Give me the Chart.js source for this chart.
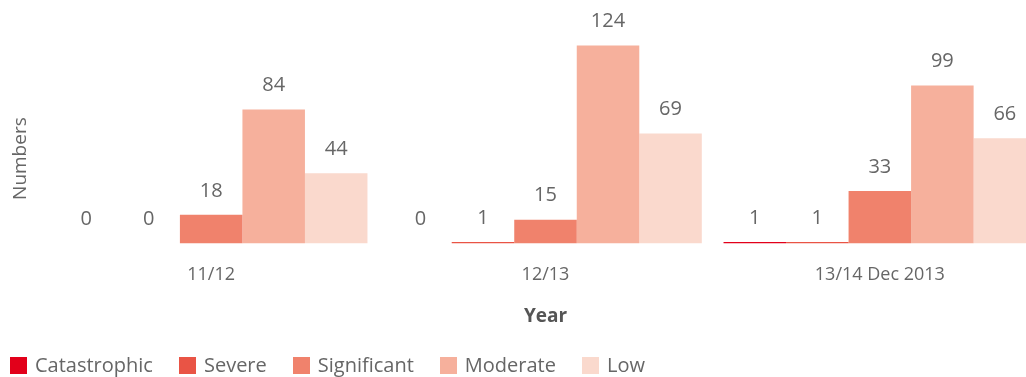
<!DOCTYPE html>
<html>
<head>
<meta charset="utf-8">
<script src="https://cdn.jsdelivr.net/npm/chart.js@4.4.1/dist/chart.umd.min.js"></script>
<style>
    html, body { margin: 0; padding: 0; background: #fff; overflow: hidden; }
    #wrap { position: relative; width: 1050px; height: 377px; }
    #legend { position: absolute; left: 10px; top: 354px; display: flex; font: 20px "Open Sans", sans-serif; color: #666; }
    #legend .item { display: flex; align-items: center; margin-right: 26px; line-height: 22px; }
    #legend .box { width: 17px; height: 17px; margin-right: 8px; }
</style>
</head>
<body>
<div id="wrap">
    <canvas id="chart" width="1050" height="377"></canvas>
    <div id="legend"></div>
</div>
<script>
const categories = ['11/12', '12/13', '13/14 Dec 2013']
const seriesNames = ['Catastrophic', 'Severe', 'Significant', 'Moderate', 'Low']
const catastrophic = [0, 0, 1]
const severe = [0, 1, 1]
const significant = [18, 15, 33]
const moderate = [84, 124, 99]
const low = [44, 69, 66]
const colors = ['#e2001a', '#e95445', '#f0826c', '#f6b09c', '#fad9cd']

const seriesValues = [catastrophic, severe, significant, moderate, low]

// value labels above each bar
const valueLabels = {
    id: 'valueLabels',
    afterDatasetsDraw(chart) {
        const { ctx } = chart
        ctx.save()
        ctx.font = '20px "Open Sans", sans-serif'
        ctx.fillStyle = '#666'
        ctx.textAlign = 'center'
        ctx.textBaseline = 'middle'
        chart.data.datasets.forEach(function (ds, i) {
            chart.getDatasetMeta(i).data.forEach(function (bar, j) {
                ctx.fillText(String(ds.data[j]), bar.x, bar.y - 24)
            })
        })
        ctx.restore()
    }
}

// y axis title sits lower than the middle of the plot
const yTitle = {
    id: 'yTitle',
    afterDraw(chart) {
        const { ctx, chartArea } = chart
        ctx.save()
        ctx.translate(chartArea.left - 23, chartArea.bottom - 85)
        ctx.rotate(-Math.PI / 2)
        ctx.font = '19px "Open Sans", sans-serif'
        ctx.fillStyle = '#666'
        ctx.textAlign = 'center'
        ctx.textBaseline = 'middle'
        ctx.fillText('Numbers', 0, 0)
        ctx.restore()
    }
}

const chart = new Chart(document.getElementById('chart'), {
    type: 'bar',
    data: {
        labels: categories,
        datasets: seriesNames.map(function (name, i) {
            return {
                label: name,
                data: seriesValues[i],
                backgroundColor: colors[i],
                borderWidth: 0,
                barPercentage: 1,
                categoryPercentage: 0.935
            }
        })
    },
    options: {
        responsive: false,
        animation: false,
        layout: {
            padding: { left: 44, right: 3, top: 4, bottom: 45 }
        },
        scales: {
            x: {
                grid: { display: false, drawTicks: false },
                border: { display: false },
                ticks: {
                    padding: 20,
                    color: '#666',
                    font: { family: 'Open Sans', size: 18 }
                },
                title: {
                    display: true,
                    text: 'Year',
                    color: '#555',
                    padding: { top: 0, bottom: 4 },
                    font: { family: 'Open Sans', size: 19, weight: 'bold' }
                }
            },
            y: {
                display: false,
                min: 0,
                max: 150
            }
        },
        plugins: {
            legend: { display: false },
            tooltip: { enabled: false }
        }
    },
    plugins: [valueLabels, yTitle]
})

// html legend built from the datasets
const legend = document.getElementById('legend')
chart.data.datasets.forEach(function (ds) {
    const item = document.createElement('div')
    item.className = 'item'
    const box = document.createElement('span')
    box.className = 'box'
    box.style.background = ds.backgroundColor
    item.appendChild(box)
    item.appendChild(document.createTextNode(ds.label))
    legend.appendChild(item)
})
</script>
</body>
</html>
